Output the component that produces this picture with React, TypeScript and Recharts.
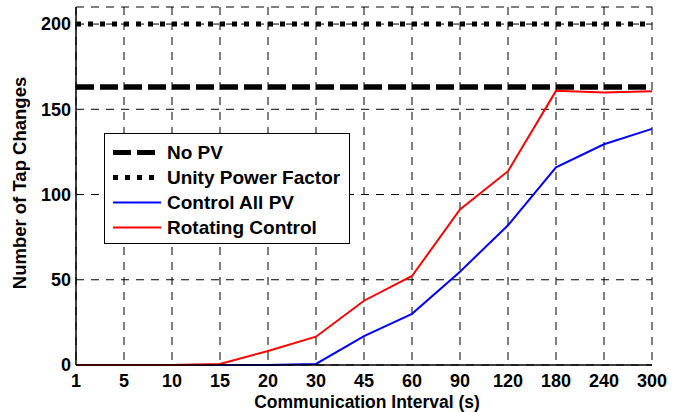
import React from 'react';
import { LineChart, Line, XAxis, YAxis, CartesianGrid, Legend, Label } from 'recharts';

const intervals = ['1', '5', '10', '15', '20', '30', '45', '60', '90', '120', '180', '240', '300'];
const noPv = [163, 163, 163, 163, 163, 163, 163, 163, 163, 163, 163, 163, 163];
const unityPf = [200, 200, 200, 200, 200, 200, 200, 200, 200, 200, 200, 200, 200];
const controlAll = [0, 0, 0, 0, 0, 0.6, 17, 30, 54.7, 82, 116, 129.5, 138.5];
const rotating = [0, 0, 0, 0.6, 8.2, 16.6, 37.7, 52.2, 91.2, 113.7, 160.8, 159.8, 160.6];
const yTicks = [0, 50, 100, 150, 200];

const FONT = '"Liberation Sans", Arial, Helvetica, sans-serif';

const data = intervals.map((interval, i) => ({
  interval,
  noPv: noPv[i],
  unityPf: unityPf[i],
  controlAll: controlAll[i],
  rotating: rotating[i],
}));

const legendItems = [
  { label: 'No PV', color: '#000', width: 5, dash: '18 6' },
  { label: 'Unity Power Factor', color: '#000', width: 5, dash: '5 7' },
  { label: 'Control All PV', color: '#0000ff', width: 2, dash: undefined },
  { label: 'Rotating Control', color: '#ff0000', width: 2, dash: undefined },
];

function LegendBox() {
  return (
    <div
      style={{
        width: 246,
        height: 111,
        boxSizing: 'border-box',
        border: '1.5px solid #000',
        background: '#fff',
        paddingTop: 6,
        fontFamily: FONT,
        fontWeight: 700,
        fontSize: 19,
        color: '#000',
      }}
    >
      {legendItems.map((item) => (
        <div key={item.label} style={{ display: 'flex', alignItems: 'center', height: 25 }}>
          <svg width={48} height={25} style={{ marginLeft: 8, marginRight: 6, flex: 'none' }}>
            <line
              x1={0}
              y1={12.5}
              x2={48}
              y2={12.5}
              stroke={item.color}
              strokeWidth={item.width}
              strokeDasharray={item.dash}
            />
          </svg>
          <span style={{ whiteSpace: 'nowrap' }}>{item.label}</span>
        </div>
      ))}
    </div>
  );
}

const YTitle = (props: any) => {
  const { viewBox } = props;
  const cy = viewBox.y + viewBox.height / 2 - 3;
  return (
    <text
      x={26}
      y={cy}
      transform={`rotate(-90, 26, ${cy})`}
      textAnchor="middle"
      fontFamily={FONT}
      fontWeight={700}
      fontSize={18.5}
      fill="#000"
    >
      Number of Tap Changes
    </text>
  );
};

const XTitle = (props: any) => {
  const { viewBox } = props;
  return (
    <text
      x={viewBox.x + viewBox.width / 2 + 3}
      y={viewBox.y + viewBox.height - 4}
      textAnchor="middle"
      fontFamily={FONT}
      fontWeight={700}
      fontSize={17.5}
      fill="#000"
    >
      Communication Interval (s)
    </text>
  );
};

const tickStyle = { fontFamily: FONT, fontWeight: 700, fontSize: 18, fill: '#000' };

export default function App() {
  return (
    <div style={{ position: 'absolute', left: 0, top: 0, width: 684, height: 412, background: '#fff' }}>
      <LineChart width={684} height={412} data={data} margin={{ top: 7, right: 32, bottom: 0, left: 0 }}>
        <CartesianGrid strokeDasharray="8 7" stroke="#000" strokeWidth={1} />
        <XAxis
          dataKey="interval"
          height={47}
          tickSize={0}
          tickMargin={9}
          tickLine={false}
          axisLine={{ stroke: '#000', strokeWidth: 1.5 }}
          tick={tickStyle}
          interval={0}
        >
          <Label content={XTitle} />
        </XAxis>
        <XAxis xAxisId="top" dataKey="interval" orientation="top" height={0} tick={false} tickLine={false} axisLine={{ stroke: '#000', strokeWidth: 1.5 }} />
        <YAxis
          domain={[0, 210]}
          ticks={yTicks}
          width={76}
          tickSize={0}
          tickMargin={5}
          tickLine={false}
          axisLine={{ stroke: '#000', strokeWidth: 1.5 }}
          tick={tickStyle}
          interval={0}
        >
          <Label content={YTitle} />
        </YAxis>
        <YAxis yAxisId="right" orientation="right" domain={[0, 210]} width={0} tick={false} tickLine={false} axisLine={{ stroke: '#000', strokeWidth: 2 }} />
        <Line dataKey="noPv" stroke="#000" strokeWidth={5.5} strokeDasharray="18 6" dot={false} isAnimationActive={false} />
        <Line dataKey="unityPf" stroke="#000" strokeWidth={5} strokeDasharray="5 7" dot={false} isAnimationActive={false} />
        <Line dataKey="controlAll" stroke="#0000ff" strokeWidth={2} dot={false} isAnimationActive={false} />
        <Line dataKey="rotating" stroke="#ff0000" strokeWidth={2} dot={false} isAnimationActive={false} />
        <Legend
          layout="vertical"
          align="center"
          verticalAlign="middle"
          content={() => <LegendBox />}
          wrapperStyle={{ position: 'absolute', left: 104, top: 133, width: 246, height: 111 }}
        />
      </LineChart>
    </div>
  );
}
